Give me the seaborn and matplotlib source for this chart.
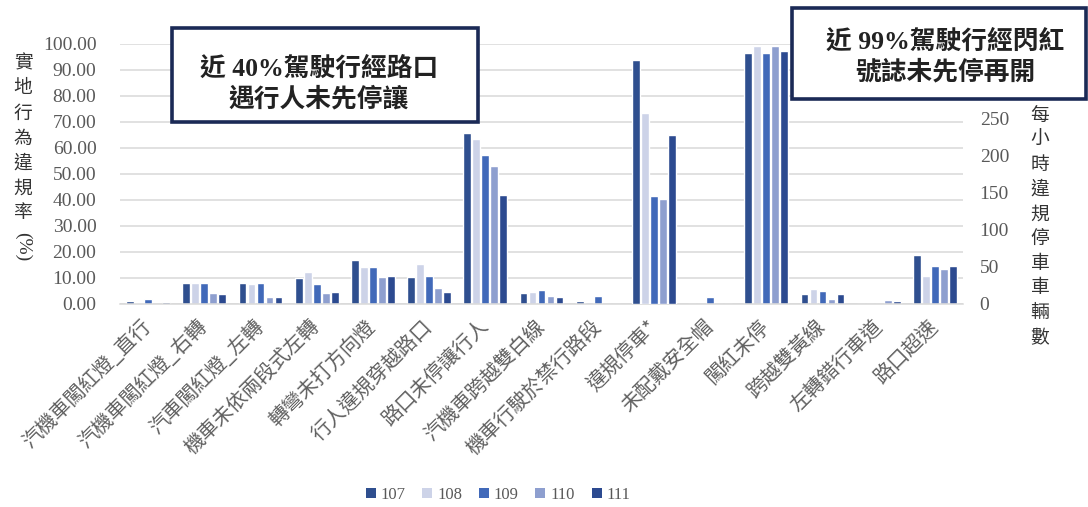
import numpy as np
import pandas as pd
import matplotlib
matplotlib.use("Agg")
import matplotlib.pyplot as plt
import seaborn as sns
from matplotlib.patches import Rectangle, Patch

# ---- data ----
categories = [
    "汽機車闖紅燈_直行", "汽機車闖紅燈_右轉", "汽車闖紅燈_左轉", "機車未依兩段式左轉",
    "轉彎未打方向燈", "行人違規穿越路口", "路口未停讓行人", "汽機車跨越雙白線",
    "機車行駛於禁行路段", "違規停車*", "未配戴安全帽", "闖紅未停",
    "跨越雙黃線", "左轉錯行車道", "路口超速",
]
years = ["107", "108", "109", "110", "111"]

# violation rate (%), left axis; 違規停車* is given per hour on the right axis
rate_107 = [1.3, 8.2, 8.2, 10.0, 16.9, 10.4, 65.9, 4.1, 1.3, np.nan, 0.0, 96.4, 3.7, 0.0, 18.8]
rate_108 = [0.4, 8.0, 7.8, 12.3, 14.4, 15.3, 63.3, 4.7, 0.8, np.nan, 0.0, 99.2, 5.9, 0.0, 10.9]
rate_109 = [2.0, 8.0, 8.2, 7.6, 14.1, 10.6, 57.3, 5.4, 3.0, np.nan, 2.6, 96.4, 5.0, 0.0, 14.5]
rate_110 = [0.0, 4.1, 2.8, 4.1, 10.3, 6.3, 53.1, 3.1, 0.0, np.nan, 0.0, 99.2, 1.8, 1.6, 13.3]
rate_111 = [0.9, 3.9, 2.8, 4.5, 10.6, 4.5, 41.9, 2.6, 0.0, np.nan, 0.0, 97.4, 3.7, 1.0, 14.5]

parking_category = "違規停車*"
parking_per_hour = [328, 257, 145, 142, 228]

colors = ["#2F4F8F", "#CDD3E8", "#4169B9", "#8E9FCF", "#2C4A90"]

left_ticks = list(range(0, 101, 10))
right_ticks = list(range(0, 251, 50))

# ---- tidy frames ----
rates = [rate_107, rate_108, rate_109, rate_110, rate_111]
df_rate = pd.DataFrame(
    [(c, y, v) for y, vals in zip(years, rates) for c, v in zip(categories, vals)],
    columns=["category", "year", "value"],
).dropna()
df_park = pd.DataFrame(
    {"category": parking_category, "year": years, "value": parking_per_hour}
)
palette = dict(zip(years, colors))

# ---- style ----
sns.set_theme(style="white")
cjk = ["Noto Sans CJK TC", "DejaVu Sans"]
serif = ["Liberation Serif", "Noto Sans CJK TC"]
plt.rcParams["font.family"] = serif
grey = "#595959"
grid_c = "#D9D9D9"

W, H = 1088, 507
fig = plt.figure(figsize=(W / 100, H / 100), dpi=100)
ax_l, ax_r, ax_t, ax_b = 120, 963, 44, 304
ax = fig.add_axes([ax_l / W, 1 - ax_b / H, (ax_r - ax_l) / W, (ax_b - ax_t) / H])

common = dict(x="category", y="value", hue="year", order=categories,
              hue_order=years, palette=palette, errorbar=None, width=0.8,
              gap=0.12, saturation=1, legend=False)
sns.barplot(data=df_rate, ax=ax, **common)
ax.set_ylim(0, 100)

ax2 = ax.twinx()
sns.barplot(data=df_park, ax=ax2, **common)
ax2.set_ylim(0, 350)
ax.set_xlim(-0.5, len(categories) - 0.5)

# grid and spines
ax.set_axisbelow(True)
ax.yaxis.grid(True, color=grid_c, linewidth=1.1)
ax.xaxis.grid(False)
for a in (ax, ax2):
    for s in ("left", "right", "top"):
        a.spines[s].set_visible(False)
ax.spines["bottom"].set_color(grid_c)
ax.spines["bottom"].set_linewidth(1.1)
ax2.spines["bottom"].set_visible(False)

# left axis ticks
ax.set_yticks(left_ticks)
ax.set_yticklabels([f"{v:.2f}" for v in left_ticks], fontsize=14, color=grey,
                   family=serif)
ax.tick_params(axis="y", length=0, pad=17)

# right axis ticks
ax2.set_yticks(right_ticks)
ax2.set_yticklabels([str(v) for v in right_ticks], fontsize=14, color=grey,
                    family=serif)
ax2.tick_params(axis="y", length=0, pad=12)
ax2.set_ylabel("")
ax2.set_xlabel("")
ax.set_ylabel("")
ax.set_xlabel("")

# category labels
ax.set_xticks(range(len(categories)))
ax.set_xticklabels(categories, rotation=45, ha="right", va="center",
                   rotation_mode="anchor", fontsize=14.5, color="#606060",
                   family=cjk)
ax.tick_params(axis="x", length=0, pad=14)

# vertical axis titles, one character per line
left_title = ["實", "地", "行", "為", "違", "規", "率"]
for i, ch in enumerate(left_title):
    fig.text(23 / W, 1 - (63 + 25 * i) / H, ch, ha="center", va="center",
             fontsize=13.5, color="#333333", family=cjk)
fig.text(23 / W, 1 - 247 / H, "(%)", ha="center", va="center", rotation=-90,
         fontsize=14, color="#333333", family=serif)

right_title = ["每", "小", "時", "違", "規", "停", "車", "車", "輛", "數"]
for i, ch in enumerate(right_title):
    fig.text(1040 / W, 1 - (115 + 24.7 * i) / H, ch, ha="center", va="center",
             fontsize=13.5, color="#333333", family=cjk)

# callout boxes
box_c = "#1B2A56"
boxes = [
    ((172, 28, 478, 122), "近 40%駕駛行經路口\n遇行人未先停讓", (319, 84)),
    ((792, 8, 1086, 99), "近 99%駕駛行經閃紅\n號誌未先停再開", (945, 57)),
]
for (x0, y0, x1, y1), txt, (cx, cy) in boxes:
    fig.patches.append(Rectangle((x0 / W, 1 - y1 / H), (x1 - x0) / W,
                                 (y1 - y0) / H, transform=fig.transFigure,
                                 facecolor="white", edgecolor=box_c,
                                 linewidth=2.6, zorder=5))
    fig.text(cx / W, 1 - cy / H, txt, ha="center", va="center",
             fontsize=18.5, fontweight="bold", color="#222222",
             family=serif, linespacing=1.3, zorder=6)

# legend
handles = [Patch(facecolor=c, edgecolor="none") for c in colors]
leg = fig.legend(handles, years, loc="center", bbox_to_anchor=(498 / W, 1 - 495 / H),
                 ncol=5, frameon=False, handlelength=0.6, handleheight=0.6,
                 handletextpad=0.3, columnspacing=1.0,
                 prop={"family": serif, "size": 12})
for t in leg.get_texts():
    t.set_color(grey)

fig.savefig("out.png", dpi=100, facecolor="white")
